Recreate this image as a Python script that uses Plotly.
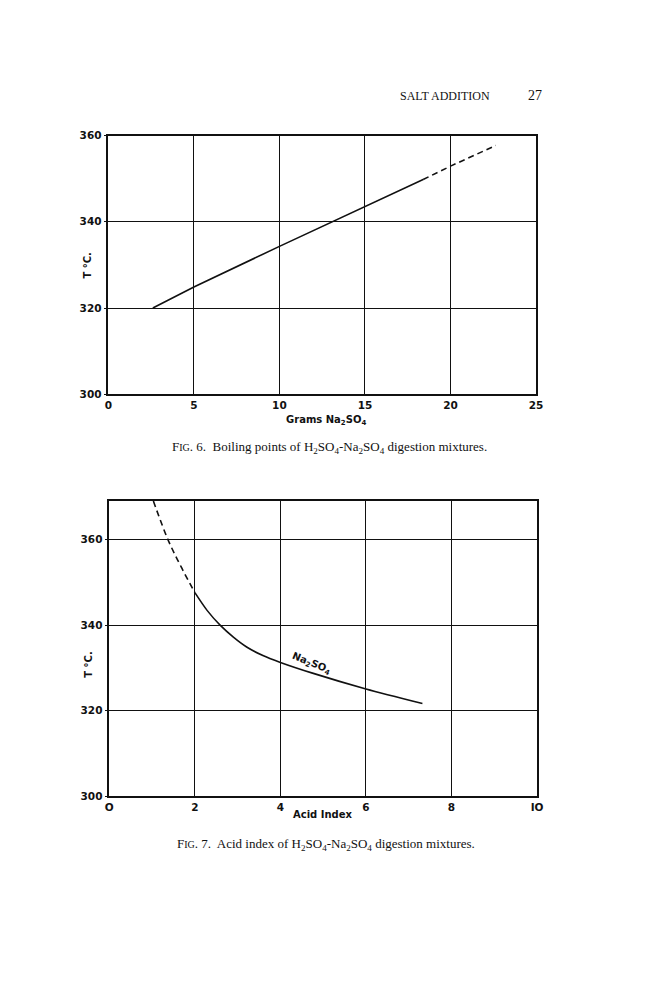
import plotly.graph_objects as go

# Fig. 6: boiling point vs grams Na2SO4
fig6_solid_x = [2.6, 5.0, 10.0, 15.0, 18.4]
fig6_solid_y = [320.0, 324.9, 334.3, 343.5, 349.8]
fig6_dash_x = [18.4, 20.0, 22.65]
fig6_dash_y = [349.8, 352.9, 357.7]

# Fig. 7: boiling point vs acid index
fig7_dash_x = [1.03, 1.37, 1.68, 2.0]
fig7_dash_y = [369.0, 360.0, 353.6, 347.6]
fig7_solid_x = [2.0, 2.29, 2.59, 2.90, 3.21, 3.59, 4.0, 4.75, 6.0, 7.32]
fig7_solid_y = [347.6, 343.4, 340.0, 337.2, 334.9, 332.9, 331.3, 328.8, 325.1, 321.7]

fig6_xticks = [0, 5, 10, 15, 20, 25]
fig7_xticks = [0, 2, 4, 6, 8, 10]
fig7_xlabels = ["O", "2", "4", "6", "8", "IO"]
temp_ticks = [300, 320, 340, 360]

INK = "#111111"
TICK_FONT = dict(family="DejaVu Sans", size=10.5, color=INK, weight="bold")
SERIF = "Liberation Serif"

# the page body keeps its default 8px margin, so the figure is drawn 8px in
W, H, OFF = 656, 992, 8


def px_x(p):
    return (p - OFF) / W


def px_y(p):
    return 1 - (p - OFF) / H


fig = go.Figure()

fig.add_trace(go.Scatter(x=fig6_solid_x, y=fig6_solid_y, mode="lines",
                         line=dict(color=INK, width=1.6), xaxis="x", yaxis="y"))
fig.add_trace(go.Scatter(x=fig6_dash_x, y=fig6_dash_y, mode="lines",
                         line=dict(color=INK, width=1.6, dash="6px,4px"), xaxis="x", yaxis="y"))
fig.add_trace(go.Scatter(x=fig7_dash_x, y=fig7_dash_y, mode="lines",
                         line=dict(color=INK, width=1.6, dash="6px,4px", shape="spline"),
                         xaxis="x2", yaxis="y2"))
fig.add_trace(go.Scatter(x=fig7_solid_x, y=fig7_solid_y, mode="lines",
                         line=dict(color=INK, width=1.6, shape="spline", smoothing=0.8),
                         xaxis="x2", yaxis="y2"))

axis_common = dict(
    showgrid=True, gridcolor=INK, gridwidth=1.2,
    showline=True, linecolor=INK, linewidth=1.5, mirror=True,
    zeroline=False, ticklen=3, tickcolor=INK,
    tickfont=TICK_FONT, fixedrange=True,
)

fig.update_layout(
    width=W,
    height=H,
    margin=dict(l=0, r=0, t=0, b=0),
    paper_bgcolor="white",
    plot_bgcolor="white",
    showlegend=False,
    xaxis=dict(domain=[px_x(106), px_x(541)], range=[0, 25], tickvals=fig6_xticks,
               ticks="", anchor="y", **axis_common),
    yaxis=dict(domain=[px_y(393), px_y(131)], range=[300, 360], tickvals=temp_ticks,
               ticks="outside", anchor="x", **axis_common),
    xaxis2=dict(domain=[px_x(107), px_x(542)], range=[0, 10], tickvals=fig7_xticks,
                ticktext=fig7_xlabels, ticks="", anchor="y2", **axis_common),
    yaxis2=dict(domain=[px_y(800), px_y(501)], range=[300, 369], tickvals=temp_ticks,
                ticks="outside", anchor="x2", **axis_common),
)

label_font = dict(family="DejaVu Sans", size=10, color=INK, weight="bold")


def note(px, py, text, font, angle=0):
    fig.add_annotation(x=px_x(px), y=px_y(py), xref="paper", yref="paper",
                       xanchor="center", yanchor="middle", showarrow=False,
                       text=text, font=font, textangle=angle)


# header
note(448, 91, "SALT ADDITION", dict(family=SERIF, size=12, color=INK))
note(540, 91, "27", dict(family=SERIF, size=14, color=INK))

# axis titles
note(327, 419, "Grams Na<sub>2</sub>SO<sub>4</sub>", label_font)
note(85, 263, "T °C.", label_font, -90)
note(324, 818, "Acid Index", label_font)
note(85, 667, "T °C.", label_font, -90)

# curve label
fig.add_annotation(x=4.72, y=331.0, xref="x2", yref="y2", showarrow=False,
                   xanchor="center", yanchor="middle",
                   text="Na<sub>2</sub>SO<sub>4</sub>", textangle=22, font=label_font)

# captions
note(331, 447, "F<span style='font-size:10px'>IG</span>. 6.  Boiling points of "
               "H<sub>2</sub>SO<sub>4</sub>-Na<sub>2</sub>SO<sub>4</sub> digestion mixtures.",
     dict(family=SERIF, size=13, color=INK))
note(327, 849, "F<span style='font-size:10px'>IG</span>. 7.  Acid index of "
               "H<sub>2</sub>SO<sub>4</sub>-Na<sub>2</sub>SO<sub>4</sub> digestion mixtures.",
     dict(family=SERIF, size=13, color=INK))

fig.write_html("out.html", config={"displayModeBar": False})
